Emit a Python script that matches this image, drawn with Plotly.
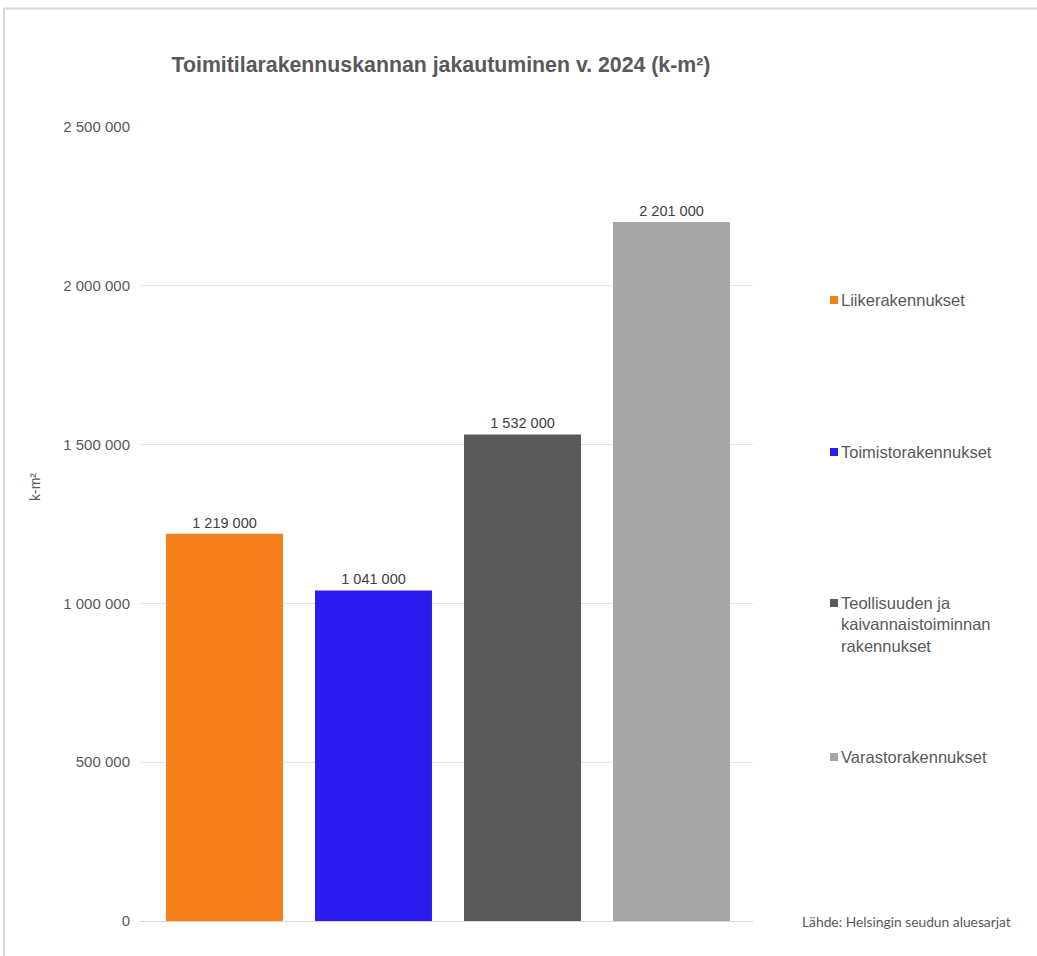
import plotly.graph_objects as go

categories = ["Liikerakennukset", "Toimistorakennukset",
              "Teollisuuden ja kaivannaistoiminnan rakennukset", "Varastorakennukset"]
legend_labels = ["Liikerakennukset", "Toimistorakennukset",
                 "Teollisuuden ja<br>kaivannaistoiminnan<br>rakennukset", "Varastorakennukset"]
values = [1219000, 1041000, 1532000, 2201000]
colors = ["#F47F1B", "#2B1BEF", "#595959", "#A6A6A6"]
y_tick_values = [0, 500000, 1000000, 1500000, 2000000, 2500000]

W, H = 1037, 956
L, R, T, B = 140, 753, 127, 921  # plot area in pixels


def px(x):
    return (x - L) / (R - L)


def py(y):
    return (B - y) / (B - T)


fig = go.Figure()
fig.add_trace(go.Bar(
    x=list(range(len(categories))),
    y=values,
    customdata=categories,
    marker=dict(color=colors, line=dict(width=0)),
    texttemplate="%{y:,d}",
    textposition="outside",
    textfont=dict(family="Liberation Sans, Arial, sans-serif", size=14.5, color="#404040"),
    cliponaxis=False,
    showlegend=False,
    hovertemplate="%{customdata}: %{y:,d}<extra></extra>",
))

shapes = []
annotations = []

# legend (squares + labels)
legend_y = [300, 452, 603, 757]
for lab, col, yy in zip(legend_labels, colors, legend_y):
    shapes.append(dict(type="rect", xref="paper", yref="paper",
                       x0=px(830), x1=px(838), y0=py(yy + 4), y1=py(yy - 4),
                       fillcolor=col, line=dict(width=0)))
    annotations.append(dict(text=lab, xref="paper", yref="paper",
                            x=px(839), y=py(yy - 11), xanchor="left", yanchor="top",
                            align="left", showarrow=False,
                            font=dict(family="Liberation Sans, Arial, sans-serif",
                                      size=16.5, color="#595959")))

# y-axis title
annotations.append(dict(text="k-m²", xref="paper", yref="paper",
                        x=px(35), y=py(487), xanchor="center", yanchor="middle",
                        textangle=-90, showarrow=False,
                        font=dict(family="Liberation Sans, Arial, sans-serif", size=14,
                                  color="#595959")))

# source note
annotations.append(dict(text="Lähde: Helsingin seudun aluesarjat", xref="paper", yref="paper",
                        x=px(906), y=py(921), xanchor="center", yanchor="middle",
                        showarrow=False,
                        font=dict(family="Lato, sans-serif", size=13.8, color="#595959")))

# outer border (top and left)
shapes.append(dict(type="path", xref="paper", yref="paper",
                   path=f"M {px(4)} {py(H + 5)} L {px(4)} {py(8.5)} L {px(W + 5)} {py(8.5)}",
                   line=dict(color="#D9D9D9", width=2)))

fig.update_layout(
    width=W, height=H,
    margin=dict(l=L, r=W - R, t=T, b=H - B, pad=0),
    paper_bgcolor="white", plot_bgcolor="white",
    separators=", ",
    bargap=0.215,
    title=dict(text="<b>Toimitilarakennuskannan jakautuminen v. 2024 (k-m²)</b>",
               xref="container", yref="container",
               x=441 / W, xanchor="center", y=1 - 65 / H, yanchor="middle",
               font=dict(family="Liberation Sans, Arial, sans-serif", size=21.3, color="#595959")),
    xaxis=dict(range=[-0.5 - 10 / 149, 3.5 + 7 / 149], showticklabels=False,
               showgrid=False, zeroline=False, showline=False, ticks="", fixedrange=True),
    yaxis=dict(range=[0, 2500000], tickvals=y_tick_values, tickformat=",d",
               showgrid=True, gridcolor="#E3E3E3", gridwidth=1,
               zeroline=True, zerolinecolor="#D9D9D9", zerolinewidth=1,
               showline=False, ticks="", ticklabelstandoff=9,
               tickfont=dict(family="Liberation Sans, Arial, sans-serif", size=15, color="#595959")),
    shapes=shapes,
    annotations=annotations,
)

fig.write_html("out.html")
